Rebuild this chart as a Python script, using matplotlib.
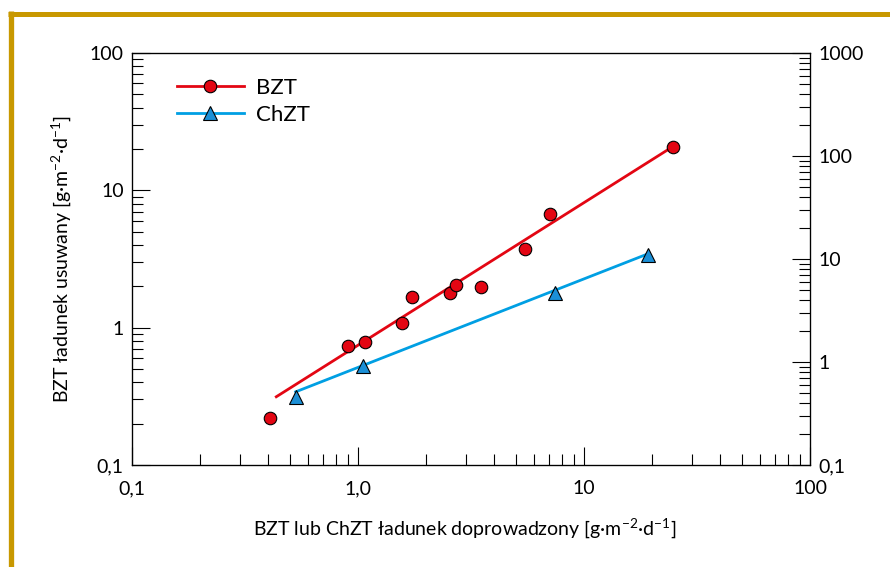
import numpy as np
import matplotlib.pyplot as plt
from matplotlib.lines import Line2D
from matplotlib.ticker import FixedLocator, FixedFormatter, LogLocator, NullFormatter

plt.rcParams["font.family"] = ["Lato", "DejaVu Sans"]
plt.rcParams["mathtext.fontset"] = "custom"
plt.rcParams["mathtext.rm"] = "Lato"

# data
bzt_x = [0.41, 0.90, 1.07, 1.57, 1.74, 2.56, 2.71, 3.51, 5.50, 7.07, 24.7]
bzt_y = [0.221, 0.738, 0.785, 1.086, 1.67, 1.79, 2.03, 1.99, 3.74, 6.76, 20.8]
bzt_fit_x = [0.435, 24.7]
bzt_fit_y = [0.314, 20.8]

chzt_x = [0.53, 1.05, 7.46, 19.2]
chzt_y = [0.311, 0.528, 1.80, 3.38]
chzt_fit_x = [0.53, 19.2]
chzt_fit_y = [0.341, 3.45]

x_ticks = [0.1, 1, 10, 100]
x_labels = ["0,1", "1,0", "10", "100"]
yl_ticks = [0.1, 1, 10, 100]
yl_labels = ["0,1", "1", "10", "100"]
yr_ticks = [0.1, 1, 10, 100, 1000]
yr_labels = ["0,1", "1", "10", "100", "1000"]

RED = "#e30613"
BLUE = "#009fe3"
TRI = "#1b8fd6"
GOLD = "#c89800"

W, H = 890, 567
fig = plt.figure(figsize=(W / 100, H / 100), dpi=100)

# gold frame (top and left bars)
fig.add_artist(Line2D([8 / W, 1], [1 - 13.5 / H] * 2, color=GOLD, lw=5 * 0.72, solid_capstyle="butt"))
fig.add_artist(Line2D([10.7 / W] * 2, [0, 1 - 11 / H], color=GOLD, lw=5.3 * 0.72, solid_capstyle="butt"))

ax = fig.add_axes([132 / W, 1 - 465 / H, (810 - 132) / W, (465 - 53) / H])
ax.set_xscale("log")
ax.set_yscale("log")
ax.set_xlim(0.1, 100)
ax.set_ylim(0.1, 100)

ax.plot(bzt_fit_x, bzt_fit_y, color=RED, lw=2, zorder=2)
ax.plot(chzt_fit_x, chzt_fit_y, color=BLUE, lw=2, zorder=2)
ax.plot(bzt_x, bzt_y, "o", ms=9, mfc=RED, mec="black", mew=0.8, zorder=3)
ax.plot(chzt_x, chzt_y, "^", ms=10, mfc=TRI, mec="black", mew=0.8, zorder=3)

ax.xaxis.set_major_locator(FixedLocator(x_ticks))
ax.xaxis.set_major_formatter(FixedFormatter(x_labels))
ax.xaxis.set_minor_locator(LogLocator(base=10, subs=np.arange(2, 10)))
ax.xaxis.set_minor_formatter(NullFormatter())
ax.yaxis.set_major_locator(FixedLocator(yl_ticks))
ax.yaxis.set_major_formatter(FixedFormatter(yl_labels))
ax.yaxis.set_minor_locator(LogLocator(base=10, subs=np.arange(2, 10)))
ax.yaxis.set_minor_formatter(NullFormatter())

ax.tick_params(which="both", direction="in", top=False, right=False, colors="black",
               labelsize=14, width=0.8)
ax.tick_params(which="major", length=13)
ax.tick_params(which="minor", length=8)
ax.tick_params(axis="x", which="major", pad=11)
ax.tick_params(axis="y", which="major", pad=6)
for s in ax.spines.values():
    s.set_linewidth(0.9)

ax2 = ax.twinx()
ax2.set_yscale("log")
ax2.set_ylim(0.1, 1000)
ax2.yaxis.set_major_locator(FixedLocator(yr_ticks))
ax2.yaxis.set_major_formatter(FixedFormatter(yr_labels))
ax2.yaxis.set_minor_locator(LogLocator(base=10, subs=np.arange(2, 10)))
ax2.yaxis.set_minor_formatter(NullFormatter())
ax2.tick_params(which="both", direction="in", labelsize=14, width=0.8, colors="black")
ax2.tick_params(which="major", length=13, pad=6)
ax2.tick_params(which="minor", length=8)

ax.set_ylabel(r"BZT ładunek usuwany [g·m$^{-2}$·d$^{-1}$]", fontsize=14)
ax.yaxis.set_label_coords(-0.086, 0.5)
ax.set_xlabel(r"BZT lub ChZT ładunek doprowadzony [g·m$^{-2}$·d$^{-1}$]", fontsize=14)
ax.xaxis.set_label_coords(0.49, -0.126)

handles = [
    Line2D([], [], color=RED, lw=2, marker="o", ms=9, mfc=RED, mec="black", mew=0.8),
    Line2D([], [], color=BLUE, lw=2, marker="^", ms=10, mfc=TRI, mec="black", mew=0.8),
]
ax.legend(handles, ["BZT", "ChZT"], loc="upper left", bbox_to_anchor=(0.037, 0.988),
          frameon=False, fontsize=16, handlelength=3.0, handletextpad=0.55,
          labelspacing=0.3)

fig.savefig("out.png", dpi=100)
